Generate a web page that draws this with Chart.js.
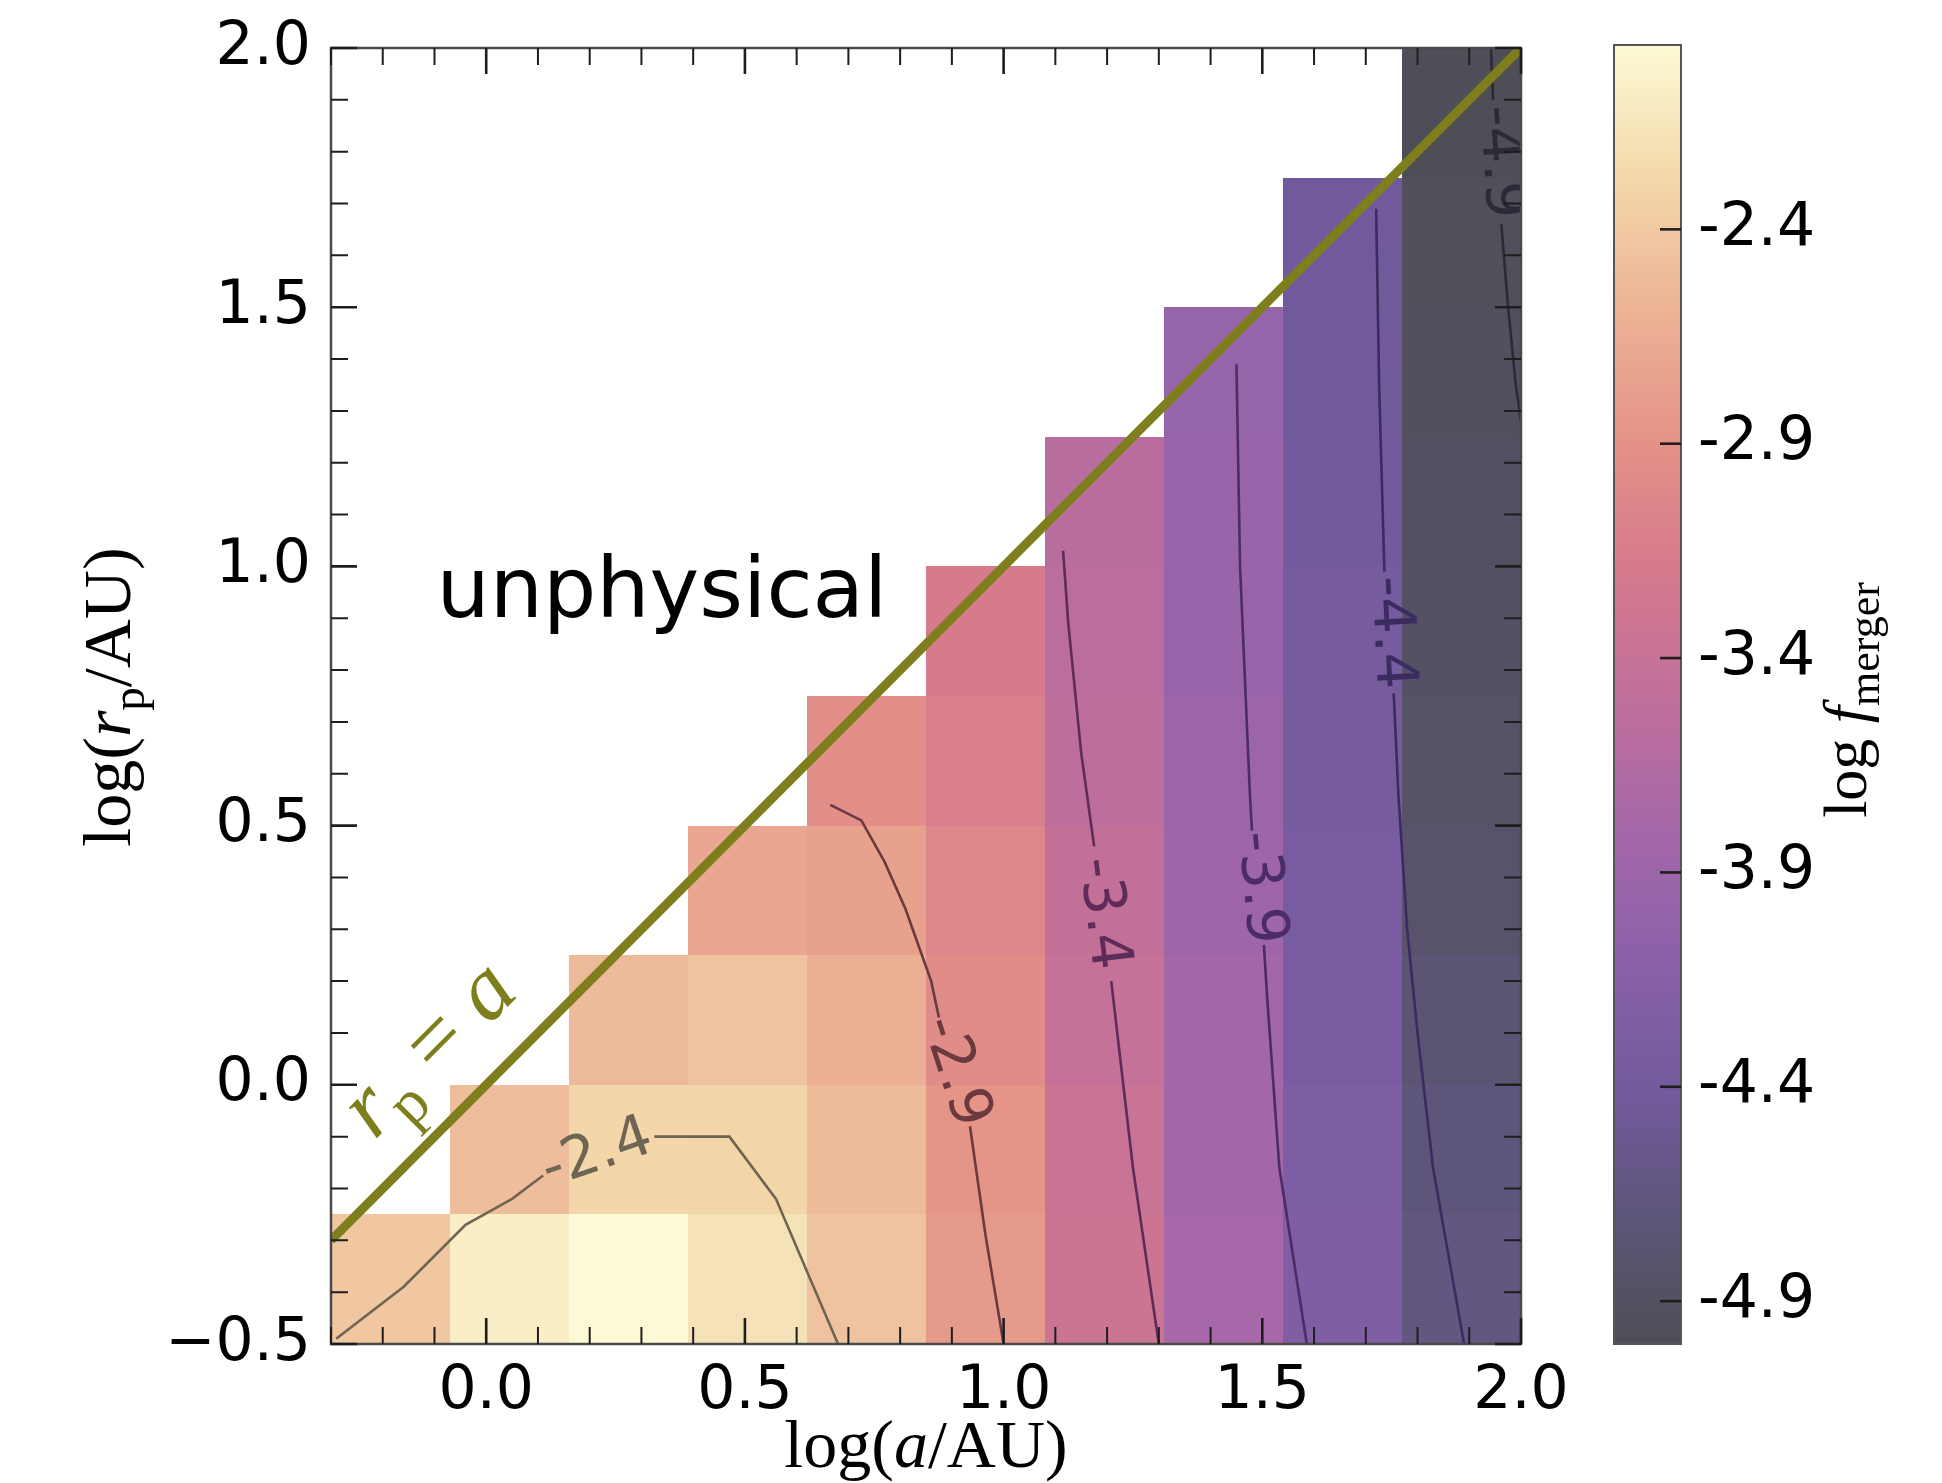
<!DOCTYPE html>
<html>
<head>
<meta charset="utf-8">
<script src="https://cdn.jsdelivr.net/npm/chart.js@4.4.0/dist/chart.umd.min.js"></script>
<style>
    html, body { margin: 0; padding: 0; background: #fff; }
    #quadro { position: relative; width: 1942px; height: 1483px; }
    #caixaPrincipal { position: absolute; left: 0; top: 0; width: 1600px; height: 1483px; }
    #caixaBarra { position: absolute; left: 1560px; top: 0; width: 382px; height: 1483px; }
</style>
</head>
<body>
<div id="quadro">
    <div id="caixaPrincipal"><canvas id="graficoPrincipal"></canvas></div>
    <div id="caixaBarra"><canvas id="barraCores"></canvas></div>
</div>
<script>
/**
 * Mapa de log f_merger no plano (log a, log r_p)
 * Células + contornos + barra de cores.
 */

// Bordas dos bins (log a e log r_p)
const bordasA = [-0.3, -0.07, 0.16, 0.39, 0.62, 0.85, 1.08, 1.31, 1.54, 1.77, 2.0];
const bordasRp = [-0.5, -0.25, 0.0, 0.25, 0.5, 0.75, 1.0, 1.25, 1.5, 1.75, 2.0];

// log f_merger por coluna de a (de baixo para cima em r_p)
const logFMerger = [
    [-2.42],
    [-2.08, -2.49],
    [-1.97, -2.29, -2.52],
    [-2.18, -2.30, -2.45, -2.71],
    [-2.45, -2.52, -2.61, -2.76, -2.94],
    [-2.82, -2.88, -2.97, -3.03, -3.12, -3.18],
    [-3.33, -3.36, -3.42, -3.45, -3.52, -3.55, -3.58],
    [-3.79, -3.82, -3.85, -3.88, -3.91, -3.94, -3.94, -3.97],
    [-4.24, -4.27, -4.30, -4.33, -4.36, -4.36, -4.39, -4.42, -4.42],
    [-4.64, -4.70, -4.76, -4.82, -4.85, -4.88, -4.91, -4.94, -4.97, -5.00]
];

// Contornos (cada nível quebrado em trechos onde entra o rótulo)
const niveisContorno = [-2.4, -2.9, -3.4, -3.9, -4.4, -4.9];
const trechosContorno = [
    [[[-0.29, -0.49], [-0.16, -0.39], [-0.04, -0.27], [0.05, -0.22], [0.11, -0.175]],
     [[0.325, -0.10], [0.47, -0.10], [0.56, -0.22], [0.62, -0.36], [0.68, -0.50]]],
    [[[0.665, 0.54], [0.725, 0.51], [0.77, 0.43], [0.81, 0.34], [0.86, 0.20], [0.875, 0.13]],
     [[0.935, -0.08], [0.965, -0.29], [1.0, -0.5]]],
    [[[1.115, 1.03], [1.125, 0.89], [1.15, 0.64], [1.175, 0.46]],
     [[1.208, 0.20], [1.25, -0.16], [1.30, -0.5]]],
    [[[1.45, 1.39], [1.457, 1.0], [1.476, 0.56], [1.48, 0.49]],
     [[1.503, 0.27], [1.51, 0.16], [1.533, -0.16], [1.586, -0.5]]],
    [[[1.72, 1.69], [1.726, 1.34], [1.736, 0.99]],
     [[1.754, 0.755], [1.763, 0.56], [1.78, 0.30], [1.80, 0.10], [1.83, -0.16], [1.89, -0.5]]],
    [[[1.942, 2.0], [1.946, 1.90]],
     [[1.962, 1.66], [1.975, 1.5], [1.99, 1.35], [2.0, 1.28]]]
];
// posição (x, y) e ângulo de cada rótulo de contorno
const rotulosContorno = [
    [0.215, -0.135, -19],
    [0.905, 0.025, 72],
    [1.19, 0.33, 83],
    [1.494, 0.38, 85],
    [1.747, 0.872, 87],
    [1.958, 1.78, 86]
];

// Linha r_p = a
const diagonal = [[-0.3, -0.3], [2.0, 2.0]];

// Ticks
const ticksX = [0.0, 0.5, 1.0, 1.5, 2.0];
const ticksY = [-0.5, 0.0, 0.5, 1.0, 1.5, 2.0];
const ticksBarra = [-2.4, -2.9, -3.4, -3.9, -4.4, -4.9];

const todosValores = logFMerger.flat();
const vMin = Math.min(...todosValores);
const vMax = Math.max(...todosValores);

// Mapa de cores (magma translúcido sobre branco)
const paradasCores = [
    [0.0, [78, 78, 86]],
    [0.1, [94, 86, 122]],
    [0.2, [115, 90, 158]],
    [0.3, [140, 97, 170]],
    [0.4, [166, 104, 168]],
    [0.5, [193, 111, 155]],
    [0.6, [214, 122, 140]],
    [0.7, [229, 148, 136]],
    [0.8, [236, 180, 150]],
    [0.9, [244, 216, 172]],
    [1.0, [252, 250, 212]]
];
const coresContorno = ['#6e6552', '#6b3a3e', '#5e2c58', '#4c2c66', '#3a2b60', '#2c2a36'];

const FONTE_SANS = 'DejaVu Sans';
const FONTE_SERIF = 'Liberation Serif';
const OLIVA = '#7e7f1c';

const corMapa = (v) => {
    const t = Math.min(1, Math.max(0, (v - vMin) / (vMax - vMin)));
    for (let i = 1; i < paradasCores.length; i++) {
        const [t1, c1] = paradasCores[i];
        const [t0, c0] = paradasCores[i - 1];
        if (t <= t1) {
            const f = (t - t0) / (t1 - t0);
            const c = c0.map((k, j) => Math.round(k + (c1[j] - k) * f));
            return `rgb(${c[0]}, ${c[1]}, ${c[2]})`;
        }
    }
    return 'rgb(252, 250, 212)';
};

const formatarTick = (v) => {
    if (Math.abs(v) < 1e-9) return '0.0';
    return v < 0 ? '\u2212' + (-v).toFixed(1) : v.toFixed(1);
};

// Desenha sequência de trechos de texto (fontes diferentes) centrada em cx
const desenharTrechos = (ctx, trechos, cx, cy) => {
    let total = 0;
    trechos.forEach(r => {
        ctx.font = r.fonte;
        r.w = ctx.measureText(r.t).width;
        total += r.w;
    });
    let x = cx - total / 2;
    ctx.textAlign = 'left';
    ctx.textBaseline = 'alphabetic';
    trechos.forEach(r => {
        ctx.font = r.fonte;
        ctx.fillText(r.t, x, cy + (r.dy || 0));
        x += r.w;
    });
};

const pluginCelulas = {
    id: 'celulas',
    beforeDatasetsDraw(chart) {
        const { ctx, scales: { x, y } } = chart;
        ctx.save();
        logFMerger.forEach((coluna, i) => {
            const x0 = Math.round(x.getPixelForValue(bordasA[i]));
            const x1 = Math.round(x.getPixelForValue(bordasA[i + 1]));
            coluna.forEach((v, j) => {
                const y0 = Math.round(y.getPixelForValue(bordasRp[j]));
                const y1 = Math.round(y.getPixelForValue(bordasRp[j + 1]));
                ctx.fillStyle = corMapa(v);
                ctx.fillRect(x0, y1, x1 - x0, y0 - y1);
            });
        });
        ctx.restore();
    }
};

const pluginTextos = {
    id: 'textos',
    afterDatasetsDraw(chart) {
        const { ctx, chartArea: a, scales: { x, y } } = chart;
        ctx.save();
        ctx.beginPath();
        ctx.rect(a.left, a.top, a.right - a.left, a.bottom - a.top);
        ctx.clip();

        // rótulos dos contornos
        ctx.font = `58px ${FONTE_SANS}`;
        ctx.textAlign = 'center';
        ctx.textBaseline = 'middle';
        rotulosContorno.forEach(([lx, ly, ang], i) => {
            ctx.save();
            ctx.translate(x.getPixelForValue(lx), y.getPixelForValue(ly));
            ctx.rotate(ang * Math.PI / 180);
            ctx.fillStyle = coresContorno[i];
            ctx.fillText(niveisContorno[i].toFixed(1), 0, 0);
            ctx.restore();
        });

        // "unphysical"
        ctx.fillStyle = '#000';
        ctx.font = `84px ${FONTE_SANS}`;
        ctx.textAlign = 'left';
        ctx.textBaseline = 'alphabetic';
        ctx.fillText('unphysical', x.getPixelForValue(-0.096), y.getPixelForValue(0.903));

        // r_p = a ao longo da diagonal
        const p0x = x.getPixelForValue(diagonal[0][0]), p0y = y.getPixelForValue(diagonal[0][1]);
        const p1x = x.getPixelForValue(diagonal[1][0]), p1y = y.getPixelForValue(diagonal[1][1]);
        const ang = Math.atan2(p1y - p0y, p1x - p0x);
        ctx.save();
        ctx.translate(x.getPixelForValue(-0.1), y.getPixelForValue(0.058));
        ctx.rotate(ang);
        ctx.fillStyle = OLIVA;
        desenharTrechos(ctx, [
            { t: 'r', fonte: `italic 90px ${FONTE_SERIF}` },
            { t: 'p', fonte: `62px ${FONTE_SERIF}`, dy: 18 },
            { t: ' = ', fonte: `90px ${FONTE_SERIF}` },
            { t: 'a', fonte: `italic 90px ${FONTE_SERIF}` }
        ], 0, 18);
        ctx.restore();

        ctx.restore();
    },
    afterDraw(chart) {
        const { ctx, chartArea: a, scales: { x, y } } = chart;
        ctx.save();

        // moldura
        ctx.strokeStyle = '#4a4a4a';
        ctx.lineWidth = 2.5;
        ctx.strokeRect(a.left, a.top, a.right - a.left, a.bottom - a.top);

        // ticks para dentro nos quatro lados
        ctx.strokeStyle = '#1e1e1e';
        const tickX = (v, len, lw) => {
            const px = x.getPixelForValue(v);
            ctx.lineWidth = lw;
            ctx.beginPath();
            ctx.moveTo(px, a.bottom); ctx.lineTo(px, a.bottom - len);
            ctx.moveTo(px, a.top); ctx.lineTo(px, a.top + len);
            ctx.stroke();
        };
        const tickY = (v, len, lw) => {
            const py = y.getPixelForValue(v);
            ctx.lineWidth = lw;
            ctx.beginPath();
            ctx.moveTo(a.left, py); ctx.lineTo(a.left + len, py);
            ctx.moveTo(a.right, py); ctx.lineTo(a.right - len, py);
            ctx.stroke();
        };
        for (let k = -3; k <= 20; k++) {
            if (k % 5 === 0) tickX(k / 10, 26, 2.6); else tickX(k / 10, 17, 2);
        }
        for (let k = -5; k <= 20; k++) {
            if (k % 5 === 0) tickY(k / 10, 26, 2.6); else tickY(k / 10, 17, 2);
        }

        // títulos dos eixos
        ctx.fillStyle = '#000';
        const cx = (a.left + a.right) / 2;
        desenharTrechos(ctx, [
            { t: 'log(', fonte: `68px ${FONTE_SERIF}` },
            { t: 'a', fonte: `italic 68px ${FONTE_SERIF}` },
            { t: '/AU)', fonte: `68px ${FONTE_SERIF}` }
        ], cx, 1467);

        ctx.save();
        ctx.translate(130, 697);
        ctx.rotate(-Math.PI / 2);
        desenharTrechos(ctx, [
            { t: 'log(', fonte: `68px ${FONTE_SERIF}` },
            { t: 'r', fonte: `italic 68px ${FONTE_SERIF}` },
            { t: 'p', fonte: `47px ${FONTE_SERIF}`, dy: 14 },
            { t: '/AU)', fonte: `68px ${FONTE_SERIF}` }
        ], 0, 0);
        ctx.restore();

        ctx.restore();
    }
};

const datasetsContorno = [];
trechosContorno.forEach((trechos, i) => {
    trechos.forEach(trecho => {
        datasetsContorno.push({
            data: trecho.map(([px, py]) => ({ x: px, y: py })),
            showLine: true,
            borderColor: coresContorno[i],
            borderWidth: 2.6,
            pointRadius: 0,
            tension: 0,
            order: 2
        });
    });
});

const graficoPrincipal = new Chart(document.getElementById('graficoPrincipal'), {
    type: 'scatter',
    data: {
        datasets: [
            ...datasetsContorno,
            {
                data: diagonal.map(([px, py]) => ({ x: px, y: py })),
                showLine: true,
                borderColor: OLIVA,
                borderWidth: 9,
                pointRadius: 0,
                clip: 0,
                order: 1
            }
        ]
    },
    options: {
        responsive: true,
        maintainAspectRatio: false,
        animation: false,
        layout: { padding: { left: 0, right: 79, top: 41, bottom: 0 } },
        plugins: { legend: { display: false }, tooltip: { enabled: false } },
        scales: {
            x: {
                type: 'linear',
                min: -0.3,
                max: 2.0,
                grid: { display: false },
                border: { display: false },
                afterBuildTicks: (s) => { s.ticks = ticksX.map(v => ({ value: v })); },
                afterFit: (s) => { s.height = 139; },
                ticks: {
                    font: { family: FONTE_SANS, size: 60 },
                    color: '#000',
                    padding: 4,
                    maxRotation: 0,
                    autoSkip: false,
                    callback: (v) => formatarTick(v)
                }
            },
            y: {
                type: 'linear',
                min: -0.5,
                max: 2.0,
                grid: { display: false },
                border: { display: false },
                afterBuildTicks: (s) => { s.ticks = ticksY.map(v => ({ value: v })); },
                afterFit: (s) => { s.width = 331; },
                ticks: {
                    font: { family: FONTE_SANS, size: 60 },
                    color: '#000',
                    padding: 12,
                    autoSkip: false,
                    callback: (v) => formatarTick(v)
                }
            }
        }
    },
    plugins: [pluginCelulas, pluginTextos]
});

// Barra de cores
const pluginBarra = {
    id: 'barra',
    afterDraw(chart) {
        const { ctx, chartArea: a, scales: { y } } = chart;
        ctx.save();
        ctx.strokeStyle = '#555';
        ctx.lineWidth = 2;
        ctx.strokeRect(a.left, a.top, a.right - a.left, a.bottom - a.top);
        ctx.strokeStyle = '#1e1e1e';
        ctx.lineWidth = 2.6;
        ticksBarra.forEach(v => {
            const py = y.getPixelForValue(v);
            ctx.beginPath();
            ctx.moveTo(a.right, py);
            ctx.lineTo(a.right - 21, py);
            ctx.stroke();
        });

        ctx.fillStyle = '#000';
        ctx.translate(306, 700);
        ctx.rotate(-Math.PI / 2);
        desenharTrechos(ctx, [
            { t: 'log ', fonte: `62px ${FONTE_SERIF}` },
            { t: 'f', fonte: `italic 62px ${FONTE_SERIF}` },
            { t: 'merger', fonte: `44px ${FONTE_SERIF}`, dy: 13 }
        ], 0, 0);
        ctx.restore();
    }
};

const barraCores = new Chart(document.getElementById('barraCores'), {
    type: 'bar',
    data: {
        labels: [''],
        datasets: [{
            data: [[vMin, vMax]],
            backgroundColor: (c) => {
                const chart = c.chart;
                if (!chart.chartArea) return '#ccc';
                const ys = chart.scales.y;
                const g = chart.ctx.createLinearGradient(0, ys.getPixelForValue(vMin), 0, ys.getPixelForValue(vMax));
                paradasCores.forEach(([t, cor]) => g.addColorStop(t, `rgb(${cor[0]}, ${cor[1]}, ${cor[2]})`));
                return g;
            },
            borderWidth: 0,
            barPercentage: 1,
            categoryPercentage: 1
        }]
    },
    options: {
        responsive: true,
        maintainAspectRatio: false,
        animation: false,
        layout: { padding: { left: 54, right: 0, top: 41, bottom: 139 } },
        plugins: { legend: { display: false }, tooltip: { enabled: false } },
        scales: {
            x: { display: false },
            y: {
                position: 'right',
                min: vMin,
                max: vMax,
                grid: { display: false },
                border: { display: false },
                afterBuildTicks: (s) => { s.ticks = ticksBarra.map(v => ({ value: v })); },
                afterFit: (s) => { s.width = 261; },
                ticks: {
                    font: { family: FONTE_SANS, size: 60 },
                    color: '#000',
                    padding: 9,
                    autoSkip: false,
                    callback: (v) => v.toFixed(1)
                }
            }
        }
    },
    plugins: [pluginBarra]
});
</script>
</body>
</html>
